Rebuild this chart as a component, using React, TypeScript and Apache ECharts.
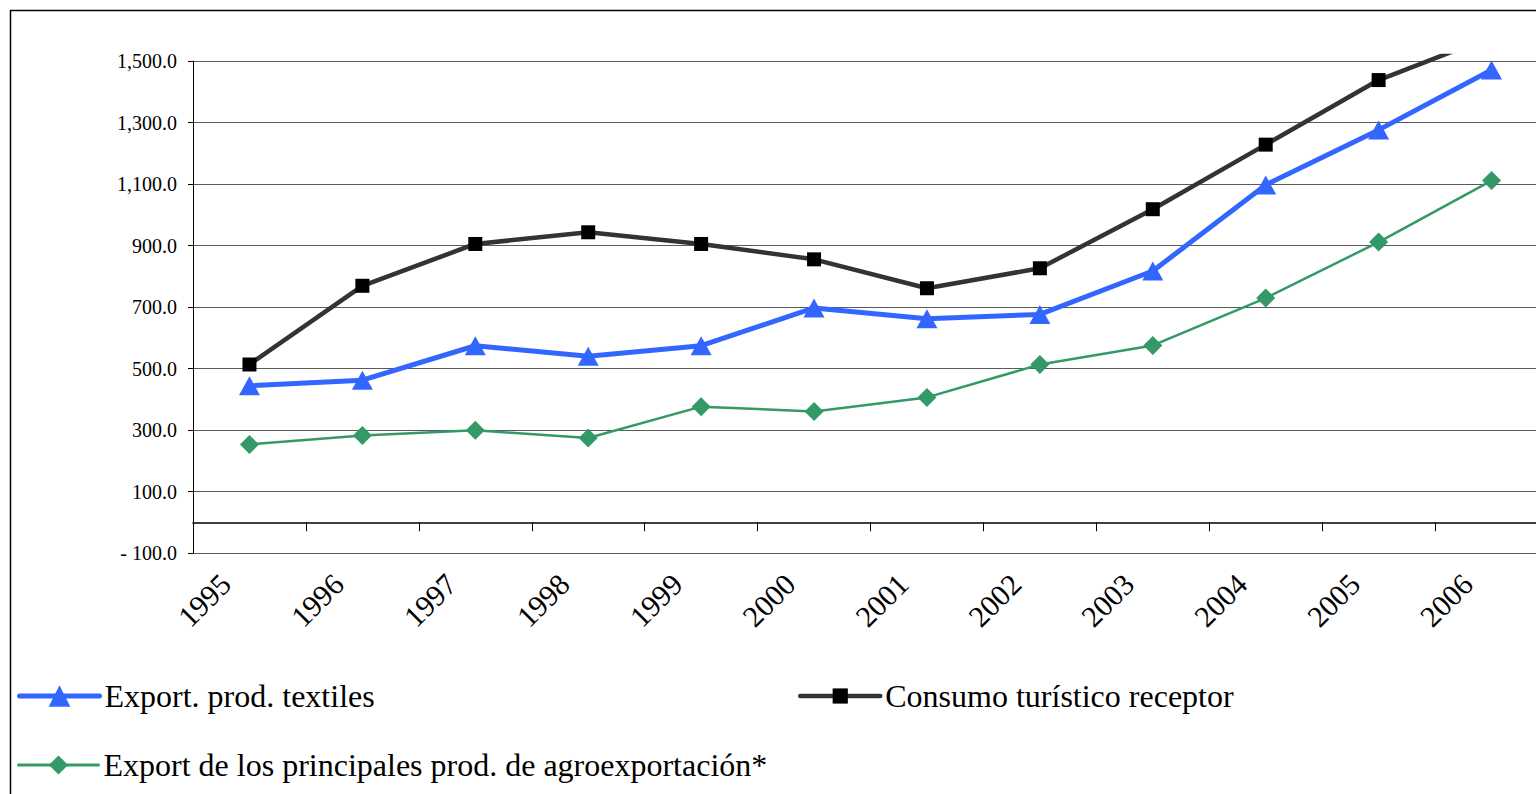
import React, { useEffect, useRef } from "react";
import * as echarts from "echarts";

const years = ["1995", "1996", "1997", "1998", "1999", "2000", "2001", "2002", "2003", "2004", "2005", "2006"];
const textiles = [444, 462, 574, 540, 574, 697, 662, 676, 817, 1097, 1276, 1471];
const turismo = [513, 769, 905, 943, 905, 855, 761, 826, 1018, 1228, 1438, 1580];
const agro = [253, 282, 299, 274, 376, 360, 406, 513, 575, 729, 911, 1111];

const seriesNames = [
  "Export. prod. textiles",
  "Consumo turístico receptor",
  "Export de los principales prod. de agroexportación*",
];

const yMin = -100;
const yMax = 1500;
const yInterval = 200;

const FONT = "Liberation Serif";

function fmt(v: number): string {
  if (v < 0) return "- " + fmt(-v);
  const s = v.toFixed(1);
  const [ip, dp] = s.split(".");
  const withCommas = ip.replace(/\B(?=(\d{3})+(?!\d))/g, ",");
  return withCommas + "." + dp;
}

export default function App() {
  const ref = useRef<HTMLDivElement>(null);

  useEffect(() => {
    if (!ref.current) return;
    const chart = echarts.init(ref.current, null, { renderer: "svg" });

    const gridLeft = 193;
    const gridWidth = 1355;
    const plotTop = 61;
    const plotBottomY = 553;
    const clipTop = 56;
    const H = 794;
    const bottom = H - plotBottomY;
    const seriesMax = yMin + ((yMax - yMin) * (plotBottomY - clipTop)) / (plotBottomY - plotTop);

    const legendText = { fontFamily: FONT, fontSize: 32, color: "#000" };

    const option: any = {
      animation: false,
      backgroundColor: "#ffffff",
      textStyle: { fontFamily: FONT },
      grid: [
        { left: gridLeft, top: plotTop, width: gridWidth, bottom: bottom },
        { left: gridLeft, top: clipTop, width: gridWidth, bottom: bottom },
        { left: gridLeft - 24, top: plotTop, width: gridWidth, bottom: bottom },
      ],
      xAxis: [
        {
          type: "category",
          gridIndex: 0,
          data: years,
          boundaryGap: true,
          axisLine: { show: true, onZero: true, lineStyle: { color: "#000", width: 1.5 } },
          axisTick: { show: true, length: 9, lineStyle: { color: "#000", width: 1 } },
          axisLabel: { show: false },
          splitLine: { show: false },
        },
        {
          type: "category",
          gridIndex: 1,
          data: years,
          boundaryGap: true,
          show: false,
        },
        {
          type: "category",
          gridIndex: 2,
          data: years,
          boundaryGap: true,
          axisLine: { show: false, onZero: false },
          axisTick: { show: false },
          axisLabel: {
            show: true,
            rotate: 45,
            margin: 26,
            interval: 0,
            fontFamily: FONT,
            fontSize: 30,
            color: "#000",
          },
          splitLine: { show: false },
        },
      ],
      yAxis: [
        {
          type: "value",
          gridIndex: 0,
          min: yMin,
          max: yMax,
          interval: yInterval,
          axisLine: { show: true, lineStyle: { color: "#000", width: 1 } },
          axisTick: { show: true, length: 5, lineStyle: { color: "#000" } },
          axisLabel: {
            margin: 16,
            fontFamily: FONT,
            fontSize: 20,
            color: "#000",
            formatter: (v: number) => fmt(v),
          },
          splitLine: { show: true, lineStyle: { color: "#5a5a5a", width: 1 } },
        },
        {
          type: "value",
          gridIndex: 1,
          min: yMin,
          max: seriesMax,
          show: false,
          splitLine: { show: false },
        },
        {
          type: "value",
          gridIndex: 2,
          min: yMin,
          max: yMax,
          show: false,
          splitLine: { show: false },
        },
      ],
      legend: [
        {
          data: [{ name: seriesNames[0], lineStyle: { width: 5, cap: "round" } }],
          left: 12,
          top: 675,
          itemWidth: 80,
          itemHeight: 27,
          selectedMode: false,
          textStyle: legendText,
        },
        {
          data: [{ name: seriesNames[1], lineStyle: { width: 4.5, cap: "round" } }],
          left: 793,
          top: 675,
          itemWidth: 80,
          itemHeight: 19,
          selectedMode: false,
          textStyle: legendText,
        },
        {
          data: [{ name: seriesNames[2], lineStyle: { width: 3, cap: "round" } }],
          left: 12,
          top: 744,
          itemWidth: 80,
          itemHeight: 24,
          selectedMode: false,
          textStyle: legendText,
        },
      ],
      graphic: [
        {
          type: "rect",
          silent: true,
          shape: { x: 10.5, y: 10.5, width: 1800, height: 1000 },
          style: { fill: "none", stroke: "#000", lineWidth: 1.5 },
          z: 100,
        },
      ],
      series: [
        {
          name: seriesNames[1],
          type: "line",
          xAxisIndex: 1,
          yAxisIndex: 1,
          data: turismo,
          symbol: "rect",
          symbolSize: 14,
          lineStyle: { color: "#333333", width: 4.5 },
          itemStyle: { color: "#000000" },
          z: 3,
        },
        {
          name: seriesNames[0],
          type: "line",
          xAxisIndex: 1,
          yAxisIndex: 1,
          data: textiles,
          symbol: "triangle",
          symbolSize: [21, 19],
          lineStyle: { color: "#3366ff", width: 5 },
          itemStyle: { color: "#3366ff" },
          z: 4,
        },
        {
          name: seriesNames[2],
          type: "line",
          xAxisIndex: 1,
          yAxisIndex: 1,
          data: agro,
          symbol: "diamond",
          symbolSize: 19,
          lineStyle: { color: "#339966", width: 2.5 },
          itemStyle: { color: "#339966" },
          z: 5,
        },
      ],
    };

    chart.setOption(option);
    return () => {
      chart.dispose();
    };
  }, []);

  return (
    <div
      ref={ref}
      style={{ position: "fixed", left: 0, top: 0, width: 1580, height: 794, background: "#fff" }}
    />
  );
}
